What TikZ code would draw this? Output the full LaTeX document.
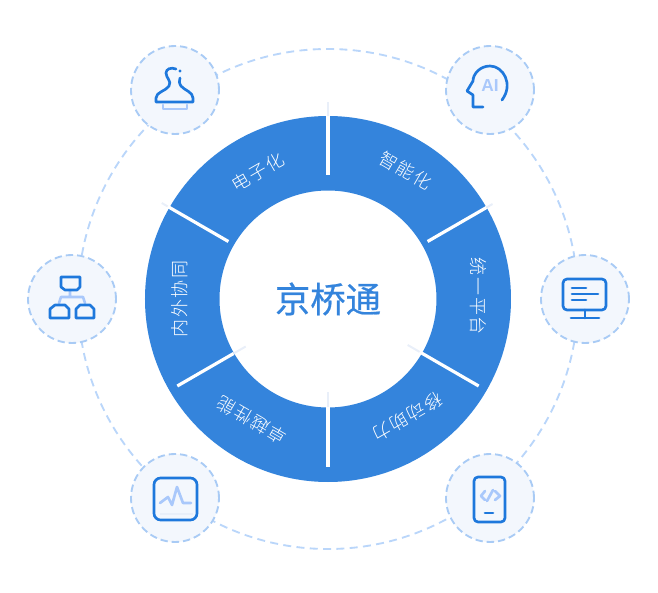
\documentclass[tikz,border=0pt]{standalone}
\usepackage{fontspec}
\newfontfamily\cjk[LetterSpace=9]{Noto Sans CJK SC Light}
\newfontfamily\cjktitle[FakeBold=0.6]{Noto Sans CJK SC}
\setsansfont{Liberation Sans}
\definecolor{ringblue}{HTML}{3484DC}
\definecolor{icondark}{HTML}{1E78DC}
\definecolor{iconlight}{HTML}{A9C8FB}
\definecolor{circlefill}{HTML}{F3F7FD}
\definecolor{circleline}{HTML}{A9CBF5}
\definecolor{orbitline}{HTML}{BAD6FA}
\definecolor{tailline}{HTML}{E9EFF9}
\tikzset{
  x=0.75pt, y=0.75pt,
  iconcircle/.style={circle, draw=circleline, fill=circlefill, line width=1.4pt, dash pattern=on 5.5pt off 3pt, minimum size=66pt, inner sep=0pt},
  ringlabel/.style={text=white, font=\cjk\fontsize{13.5}{13.5}\selectfont, inner sep=0pt},
  darkstroke/.style={draw=icondark, line width=2pt, line join=round, line cap=round},
  lightstroke/.style={draw=iconlight, line width=2pt, line join=round, line cap=round},
}
\begin{document}
\begin{tikzpicture}
  \useasboundingbox (-328,-294) rectangle (330,299);
  % dashed orbit
  \coordinate (hub) at (0,0);
  \draw[orbitline, line width=1.4pt, dash pattern=on 6pt off 4pt] (hub) circle (250);
  % blue ring
  \fill[ringblue, even odd rule] (hub) circle (183) (hub) circle (108.5);
  % separators
  \foreach \a/\ri/\ro/\ti/\to in {90/124/183/183/197, 30/115/183/183/190, 150/115/185/185/192, -30/106/174/92/106, -150/109/174/95/109, -90/108/168/93/108} {
    \draw[tailline, line width=1.5pt] (\a:\ti) -- (\a:\to);
    \draw[white, line width=2.4pt] (\a:\ri) -- (\a:\ro);
  }
  % ring labels
  \node[ringlabel, rotate=30] (lbldian) at (119:145) {电子化};
  \node[ringlabel, rotate=-30] (lblzhi) at (59:150) {智能化};
  \node[ringlabel, rotate=-90] (lbltong) at (1:150) {统一平台};
  \node[ringlabel, rotate=-150] (lblyi) at (-56:142) {移动助力};
  \node[ringlabel, rotate=150] (lblzhuo) at (-122:143) {卓越性能};
  \node[ringlabel, rotate=90] (lblnei) at (180:148) {内外协同};
  \node[text=ringblue, font=\cjktitle\fontsize{26.5}{27}\selectfont] (title) at (0,0) {京桥通};
  % icon circles
  \node[iconcircle] (stamp) at (-153,209) {};
  \node[iconcircle] (head) at (162,209) {};
  \node[iconcircle] (screen) at (257,0) {};
  \node[iconcircle] (phone) at (162,-199) {};
  \node[iconcircle] (wave) at (-153,-199) {};
  \node[iconcircle] (tree) at (-256,0) {};
  % stamp
  \begin{scope}[shift={(stamp.center)}, yscale=-1]
    \draw[darkstroke] (5,-12) .. controls (4,-9) and (4,-7) .. (6,-4) .. controls (9,0) and (18,2) .. (18,8) -- (18,12) -- (-19,12) -- (-19,8) .. controls (-19,2) and (-9,1) .. (-6,-4) .. controls (-3,-9) and (-9,-12) .. (-9,-17) .. controls (-9,-21) and (-4,-23) .. (1,-21);
    \fill[icondark] (5,-19) circle (1.6);
    \draw[lightstroke] (-12,15) -- (-12,19) -- (12,19) -- (12,15);
  \end{scope}
  % head with AI
  \begin{scope}[shift={(head.center)}, yscale=-1]
    \draw[darkstroke] (12,10) .. controls (24,-6) and (13,-24) .. (0,-24) .. controls (-10,-24) and (-17,-16) .. (-17,-9) -- (-23,1) -- (-17,5) -- (-17,17) -- (-7,17);
    \node[text=iconlight, font=\sffamily\bfseries\fontsize{13}{13}\selectfont, inner sep=0pt] (headai) at (0,-4) {AI};
  \end{scope}
  % monitor
  \begin{scope}[shift={(screen.center)}, yscale=-1]
    \draw[darkstroke, rounded corners=3] (-22,-20) rectangle (21,11);
    \draw[darkstroke] (0,11) -- (0,19) (-14,19) -- (14,19);
    \draw[darkstroke] (-13,-11) -- (1,-11) (-13,-5) -- (13,-5) (-13,1) -- (1,1);
  \end{scope}
  % phone
  \begin{scope}[shift={(phone.center)}, yscale=-1]
    \draw[darkstroke, rounded corners=3] (-16,-21) rectangle (15,24);
    \draw[darkstroke] (-5,15) -- (3,15);
    \draw[lightstroke] (-5,-7) -- (-9,-2) -- (-5,2) (5,-7) -- (10,-2) -- (5,2) (-3,3) -- (3,-8);
  \end{scope}
  % wave
  \begin{scope}[shift={(wave.center)}, yscale=-1]
    \draw[darkstroke, rounded corners=5] (-21,-20) rectangle (22,22);
    \draw[tailline, line width=0.8pt] (-15,16) -- (18,16);
    \draw[lightstroke] (-15,5) -- (-7,-1) -- (-3,7) -- (2,-11) -- (8,5) -- (16,5);
  \end{scope}
  % org chart
  \begin{scope}[shift={(tree.center)}, yscale=-1]
    \draw[lightstroke] (-2,-9) -- (-2,-2) (-13,4) -- (-11,-2) -- (11,-2) -- (13,4);
    \draw[darkstroke] (-11,-22) -- (8,-22) -- (8,-12) -- (5,-9) -- (-7,-9) -- (-11,-12) -- cycle;
    \draw[darkstroke] (-22,19) -- (-22,10) -- (-17,6) -- (-7,6) -- (-3,10) -- (-3,19) -- cycle;
    \draw[darkstroke] (4,19) -- (4,10) -- (8,6) -- (18,6) -- (22,10) -- (22,19) -- cycle;
  \end{scope}
\end{tikzpicture}
\end{document}
